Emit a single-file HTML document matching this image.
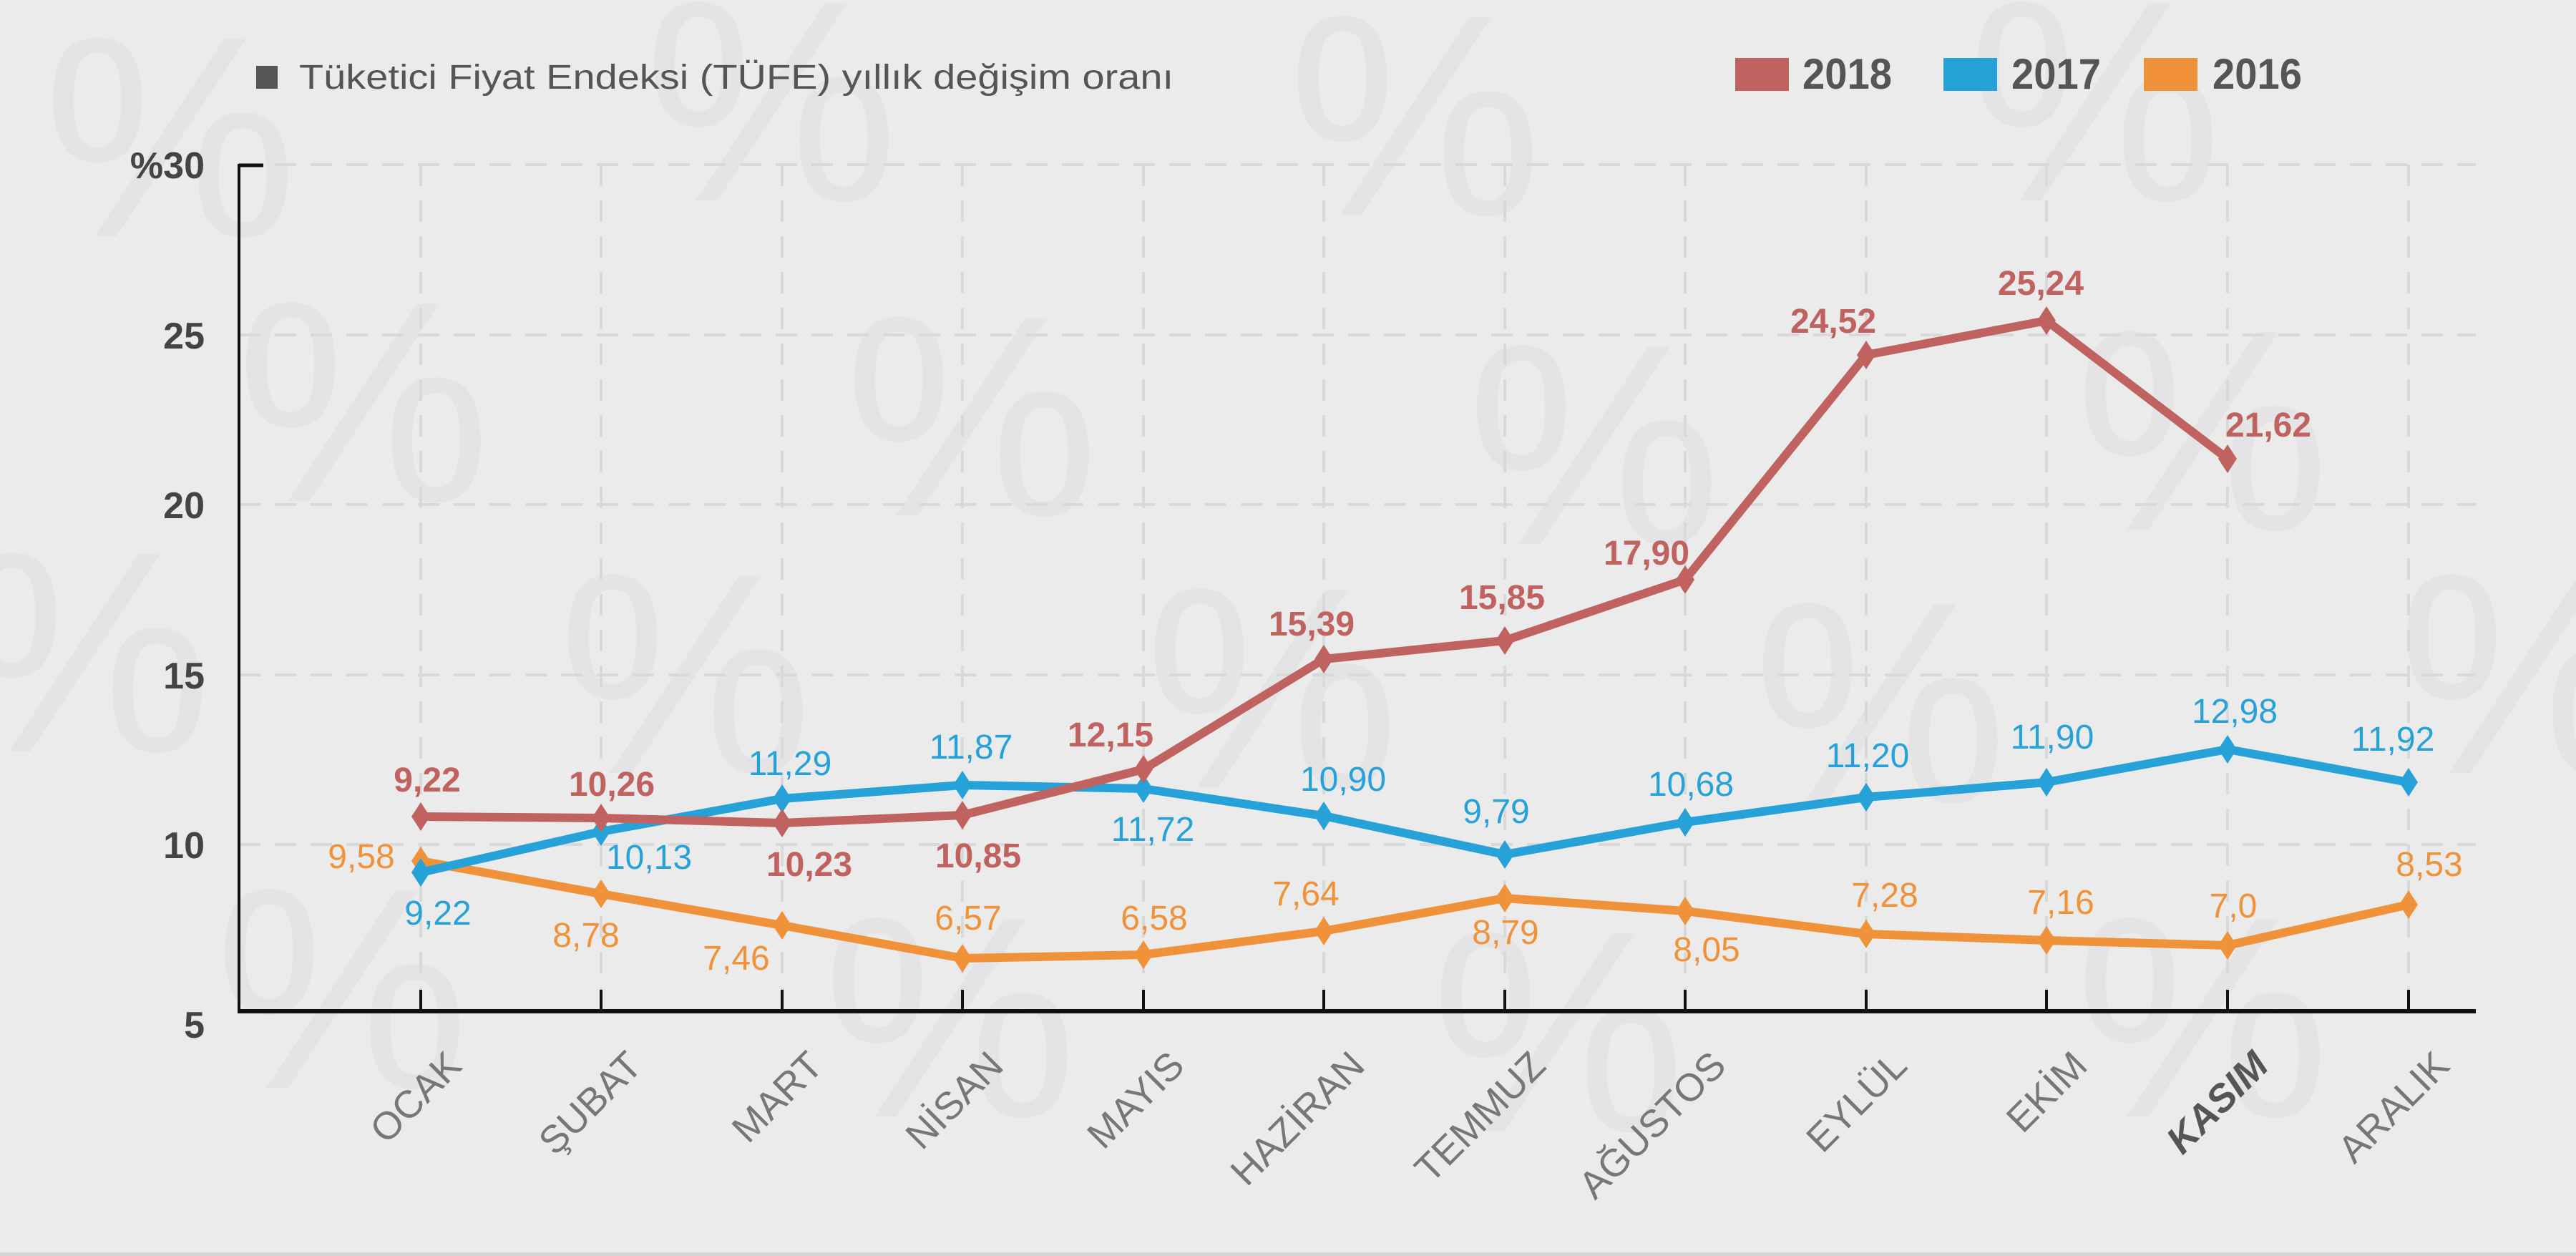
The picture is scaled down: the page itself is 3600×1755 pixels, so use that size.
<!DOCTYPE html>
<html><head><meta charset="utf-8"><style>
html,body{margin:0;padding:0;background:#ebebeb;}
svg{display:block;}
text{font-family:"Liberation Sans",sans-serif;}
</style></head><body>
<svg width="3600" height="1755" viewBox="0 0 3600 1755" xmlns="http://www.w3.org/2000/svg">
<rect width="3600" height="1755" fill="#ebebeb"/>
<g fill="#e4e4e6" font-size="400">
<text x="60" y="330">%</text><text x="900" y="280">%</text><text x="1800" y="300">%</text><text x="2750" y="280">%</text>
<text x="330" y="700">%</text><text x="1180" y="720">%</text><text x="2050" y="760">%</text><text x="2900" y="740">%</text>
<text x="-60" y="1050">%</text><text x="780" y="1080">%</text><text x="1600" y="1100">%</text><text x="2450" y="1120">%</text><text x="3350" y="1080">%</text>
<text x="300" y="1520">%</text><text x="1150" y="1560">%</text><text x="2000" y="1580">%</text><text x="2900" y="1560">%</text>
</g>
<rect x="0" y="1750" width="3600" height="5" fill="#d6d6d6"/>
<g stroke="#d9d9d9" stroke-width="4" stroke-dasharray="30,20" fill="none">
<line x1="334" y1="230" x2="3460" y2="230"/><line x1="334" y1="468" x2="3460" y2="468"/>
<line x1="334" y1="705" x2="3460" y2="705"/><line x1="334" y1="943" x2="3460" y2="943"/>
<line x1="334" y1="1180" x2="3460" y2="1180"/>
<line x1="588" y1="230" x2="588" y2="1410"/><line x1="840" y1="230" x2="840" y2="1410"/>
<line x1="1093" y1="230" x2="1093" y2="1410"/><line x1="1345" y1="230" x2="1345" y2="1410"/>
<line x1="1598" y1="230" x2="1598" y2="1410"/><line x1="1850" y1="230" x2="1850" y2="1410"/>
<line x1="2103" y1="230" x2="2103" y2="1410"/><line x1="2355" y1="230" x2="2355" y2="1410"/>
<line x1="2608" y1="230" x2="2608" y2="1410"/><line x1="2860" y1="230" x2="2860" y2="1410"/>
<line x1="3113" y1="230" x2="3113" y2="1410"/><line x1="3366" y1="230" x2="3366" y2="1410"/>
</g>
<line x1="334" y1="229" x2="334" y2="1414" stroke="#111" stroke-width="4"/>
<line x1="334" y1="231" x2="368" y2="231" stroke="#111" stroke-width="5"/>
<line x1="332" y1="1413" x2="3460" y2="1413" stroke="#111" stroke-width="6"/>
<g stroke="#111" stroke-width="4">
<line x1="588" y1="1383" x2="588" y2="1413"/><line x1="840" y1="1383" x2="840" y2="1413"/>
<line x1="1093" y1="1383" x2="1093" y2="1413"/><line x1="1345" y1="1383" x2="1345" y2="1413"/>
<line x1="1598" y1="1383" x2="1598" y2="1413"/><line x1="1850" y1="1383" x2="1850" y2="1413"/>
<line x1="2103" y1="1383" x2="2103" y2="1413"/><line x1="2355" y1="1383" x2="2355" y2="1413"/>
<line x1="2608" y1="1383" x2="2608" y2="1413"/><line x1="2860" y1="1383" x2="2860" y2="1413"/>
<line x1="3113" y1="1383" x2="3113" y2="1413"/><line x1="3366" y1="1383" x2="3366" y2="1413"/>
</g>
<g font-size="52" font-weight="bold" fill="#444" text-anchor="end">
<text x="286" y="249">%30</text><text x="286" y="487">25</text><text x="286" y="724">20</text>
<text x="286" y="962">15</text><text x="286" y="1199">10</text><text x="286" y="1450">5</text>
</g>
<rect x="358" y="92" width="30" height="32" fill="#555"/>
<text x="418" y="124" font-size="48" fill="#555" textLength="1222" lengthAdjust="spacingAndGlyphs">Tüketici Fiyat Endeksi (TÜFE) yıllık değişim oranı</text>
<rect x="2425" y="81" width="75" height="46" fill="#c0625f"/>
<text x="2519" y="124" font-size="60" fill="#555" font-weight="bold" textLength="125" lengthAdjust="spacingAndGlyphs">2018</text>
<rect x="2716" y="81" width="75" height="46" fill="#27a2d9"/>
<text x="2811" y="124" font-size="60" fill="#555" font-weight="bold" textLength="125" lengthAdjust="spacingAndGlyphs">2017</text>
<rect x="2996" y="81" width="75" height="46" fill="#f0923a"/>
<text x="3092" y="124" font-size="60" fill="#555" font-weight="bold" textLength="125" lengthAdjust="spacingAndGlyphs">2016</text>
<defs><path id="dm" d="M0,-20 L13,0 L0,20 L-13,0 Z"/></defs>
<g fill="none" stroke-width="12" stroke-linejoin="round">
<polyline stroke="#f0923a" points="588,1203 840,1249 1093,1293 1345,1339 1598,1334 1850,1301 2103,1255 2355,1273 2608,1305 2860,1314 3113,1321 3366,1264"/>
<polyline stroke="#27a2d9" points="588,1219 840,1162 1093,1116 1345,1097 1598,1102 1850,1140 2103,1194 2355,1149 2608,1114 2860,1093 3113,1047 3366,1093"/>
<polyline stroke="#c0625f" points="588,1141 840,1143 1093,1150 1345,1139 1598,1075 1850,921 2103,895 2355,810 2608,496 2860,448 3113,641"/>
</g>
<g fill="#f0923a">
<use href="#dm" x="588" y="1203"/><use href="#dm" x="840" y="1249"/><use href="#dm" x="1093" y="1293"/><use href="#dm" x="1345" y="1339"/><use href="#dm" x="1598" y="1334"/><use href="#dm" x="1850" y="1301"/><use href="#dm" x="2103" y="1255"/><use href="#dm" x="2355" y="1273"/><use href="#dm" x="2608" y="1305"/><use href="#dm" x="2860" y="1314"/><use href="#dm" x="3113" y="1321"/><use href="#dm" x="3366" y="1264"/>
</g>
<g fill="#27a2d9">
<use href="#dm" x="588" y="1219"/><use href="#dm" x="840" y="1162"/><use href="#dm" x="1093" y="1116"/><use href="#dm" x="1345" y="1097"/><use href="#dm" x="1598" y="1102"/><use href="#dm" x="1850" y="1140"/><use href="#dm" x="2103" y="1194"/><use href="#dm" x="2355" y="1149"/><use href="#dm" x="2608" y="1114"/><use href="#dm" x="2860" y="1093"/><use href="#dm" x="3113" y="1047"/><use href="#dm" x="3366" y="1093"/>
</g>
<g fill="#c0625f">
<use href="#dm" x="588" y="1141"/><use href="#dm" x="840" y="1143"/><use href="#dm" x="1093" y="1150"/><use href="#dm" x="1345" y="1139"/><use href="#dm" x="1598" y="1075"/><use href="#dm" x="1850" y="921"/><use href="#dm" x="2103" y="895"/><use href="#dm" x="2355" y="810"/><use href="#dm" x="2608" y="496"/><use href="#dm" x="2860" y="448"/><use href="#dm" x="3113" y="641"/>
</g>
<g font-size="48" fill="#c0625f" font-weight="bold" text-anchor="middle">
<text x="597" y="1106">9,22</text><text x="855" y="1112">10,26</text><text x="1131" y="1224">10,23</text>
<text x="1367" y="1212">10,85</text><text x="1552" y="1043">12,15</text><text x="1833" y="888">15,39</text>
<text x="2099" y="851">15,85</text><text x="2301" y="789">17,90</text><text x="2562" y="465">24,52</text>
<text x="2852" y="412">25,24</text><text x="3170" y="610">21,62</text>
</g>
<g font-size="48" fill="#27a2d9" text-anchor="middle">
<text x="612" y="1292">9,22</text><text x="907" y="1214">10,13</text><text x="1104" y="1083">11,29</text>
<text x="1357" y="1060">11,87</text><text x="1611" y="1175">11,72</text><text x="1877" y="1105">10,90</text>
<text x="2091" y="1150">9,79</text><text x="2363" y="1112">10,68</text><text x="2610" y="1072">11,20</text>
<text x="2868" y="1046">11,90</text><text x="3123" y="1010">12,98</text><text x="3344" y="1049">11,92</text>
</g>
<g font-size="48" fill="#f0923a" text-anchor="middle">
<text x="505" y="1213">9,58</text><text x="819" y="1323">8,78</text><text x="1029" y="1355">7,46</text>
<text x="1353" y="1299">6,57</text><text x="1613" y="1299">6,58</text><text x="1825" y="1265">7,64</text>
<text x="2104" y="1319">8,79</text><text x="2385" y="1343">8,05</text><text x="2634" y="1267">7,28</text>
<text x="2880" y="1277">7,16</text><text x="3121" y="1282">7,0</text><text x="3395" y="1224">8,53</text>
</g>
<g font-size="54" fill="#777" text-anchor="end">
<text transform="translate(648,1492) rotate(-45)">OCAK</text>
<text transform="translate(900,1492) rotate(-45)">ŞUBAT</text>
<text transform="translate(1153,1492) rotate(-45)">MART</text>
<text transform="translate(1405,1492) rotate(-45)">NİSAN</text>
<text transform="translate(1658,1492) rotate(-45)">MAYIS</text>
<text transform="translate(1910,1492) rotate(-45)">HAZİRAN</text>
<text transform="translate(2163,1492) rotate(-45)">TEMMUZ</text>
<text transform="translate(2415,1492) rotate(-45)">AĞUSTOS</text>
<text transform="translate(2668,1492) rotate(-45)">EYLÜL</text>
<text transform="translate(2920,1492) rotate(-45)">EKİM</text>
<text transform="translate(3173,1492) rotate(-45)" font-weight="bold" fill="#555" font-style="italic">KASIM</text>
<text transform="translate(3426,1492) rotate(-45)">ARALIK</text>
</g>
</svg>
</body></html>
